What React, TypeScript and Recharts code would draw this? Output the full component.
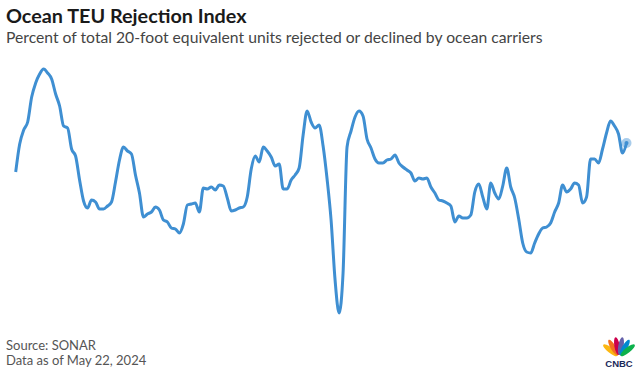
import React from "react";
import { LineChart, Line, XAxis, YAxis } from "recharts";

const TITLE = "Ocean TEU Rejection Index";
const SUBTITLE = "Percent of total 20-foot equivalent units rejected or declined by ocean carriers";
const SOURCE = "Source: SONAR";
const DATA_NOTE = "Data as of May 22, 2024";

// Index readings (percent), roughly evenly spaced in time
const rejectionValues: number[] = [
  16.8, 19.6, 21.0, 21.8, 24.3, 25.7, 26.6, 27.1, 26.7, 26.1,
  24.6, 23.4, 21.4, 21.2, 19.1, 18.4, 16.0, 13.9, 13.2, 14.0,
  13.8, 13.1, 13.1, 13.4, 13.8, 15.8, 18.0, 19.3, 18.9, 18.6,
  16.5, 14.7, 12.3, 12.6, 12.8, 13.3, 13.0, 12.0, 11.8, 11.2,
  11.1, 10.7, 11.6, 13.5, 13.6, 13.7, 12.8, 15.2, 15.1, 15.3,
  15.0, 15.5, 15.4, 14.2, 12.9, 13.0, 13.2, 13.3, 14.3, 17.1,
  18.4, 17.8, 19.3, 18.9, 18.3, 17.4, 17.6, 15.1, 15.1, 16.0,
  16.5, 17.2, 20.5, 22.9, 21.8, 21.2, 21.5, 19.4, 16.1, 12.0,
  6.0, 2.7, 6.7, 19.3, 20.9, 22.3, 22.9, 22.4, 20.1, 19.2,
  18.1, 17.7, 17.7, 18.0, 18.1, 18.5, 17.7, 17.3, 17.0, 16.7,
  15.9, 16.2, 16.1, 16.2, 15.3, 14.7, 14.0, 13.9, 13.7, 13.4,
  11.8, 12.4, 12.2, 12.2, 12.5, 14.8, 15.6, 14.3, 13.1, 15.7,
  14.7, 14.1, 15.4, 17.2, 15.3, 14.2, 12.1, 9.7, 8.8, 8.7,
  9.7, 10.6, 11.2, 11.3, 11.7, 12.8, 13.7, 15.5, 14.8, 15.1,
  15.7, 15.5, 13.7, 14.3, 18.1, 18.1, 17.7, 19.1, 20.7, 21.9,
  21.4, 20.6, 18.7, 19.7,
];

const periods: string[] = rejectionValues.map((_, i) => `P${i + 1}`);

const data = periods.map((p, i) => ({ period: p, value: rejectionValues[i] }));

const LINE_COLOR = "#3f8fd2";
const FONT = "Lato, 'Open Sans', Arial, sans-serif";

const LastDot = (props: any) => {
  const { cx, cy, index } = props;
  if (index !== data.length - 1) return <g key={`d${index}`} />;
  return (
    <g key={`d${index}`}>
      <circle cx={cx} cy={cy} r={5} fill={LINE_COLOR} fillOpacity={0.45} />
      <circle cx={cx} cy={cy} r={2} fill={LINE_COLOR} />
    </g>
  );
};

const feathers = [
  { color: "#fcb711", angle: -52 },
  { color: "#f37021", angle: -31 },
  { color: "#cc004c", angle: -10 },
  { color: "#6460aa", angle: 10 },
  { color: "#0089d0", angle: 31 },
  { color: "#0db14b", angle: 52 },
];

const Logo = () => (
  <svg width={40} height={40} style={{ position: "absolute", left: 599, top: 332 }}>
    {feathers.map((f) => (
      <ellipse
        key={f.color}
        cx={20}
        cy={14}
        rx={2.7}
        ry={9}
        fill={f.color}
        transform={`rotate(${f.angle} 20 25)`}
      />
    ))}
    <text x={20} y={35} textAnchor="middle" fontFamily="Arial, sans-serif" fontWeight={900} fontSize={9.5} fill="#1b2a5a">
      CNBC
    </text>
  </svg>
);

export default function App() {
  return (
    <div
      style={{
        position: "absolute",
        left: 0,
        top: 0,
        width: 644,
        height: 378,
        background: "#fff",
        overflow: "hidden",
        fontFamily: FONT,
      }}
    >
      <div style={{ position: "absolute", left: 6, top: 3, fontSize: 19.8, fontWeight: 700, color: "#1a1a1a", whiteSpace: "nowrap" }}>
        {TITLE}
      </div>
      <div style={{ position: "absolute", left: 6, top: 28, fontSize: 15.7, color: "#444", whiteSpace: "nowrap" }}>
        {SUBTITLE}
      </div>
      <div style={{ position: "absolute", left: 0, top: 0 }}>
        <LineChart
          width={644}
          height={378}
          data={data}
          margin={{ top: 60, right: 17.5, bottom: 38, left: 15.7 }}
        >
          <XAxis dataKey="period" hide padding={{ left: 0, right: 0 }} />
          <YAxis hide domain={[0, 28]} />
          <Line
            type="monotone"
            dataKey="value"
            stroke={LINE_COLOR}
            strokeWidth={3}
            dot={<LastDot />}
            activeDot={false}
            isAnimationActive={false}
          />
        </LineChart>
      </div>
      <div style={{ position: "absolute", left: 6, top: 338, fontSize: 13, color: "#555", lineHeight: "15px", whiteSpace: "nowrap" }}>
        {SOURCE}
        <br />
        {DATA_NOTE}
      </div>
      <Logo />
    </div>
  );
}
